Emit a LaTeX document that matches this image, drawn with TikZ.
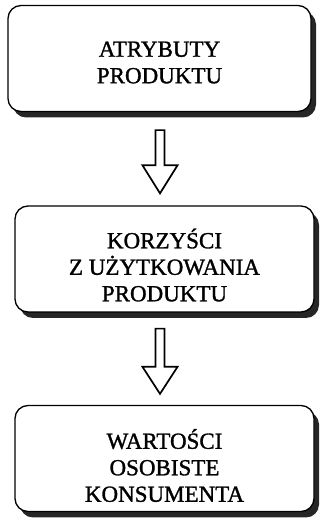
\documentclass[tikz,border=0pt]{standalone}
\usepackage{fontspec}
\setmainfont{Liberation Serif}
\newfontfamily\stagefont{Liberation Serif}[FakeBold=1.3]
\usetikzlibrary{shadows,calc}
\begin{document}
\begin{tikzpicture}[x=1pt,y=1pt,
  box/.style={draw=black, line width=1.3pt, rounded corners=13pt, fill=white,
    minimum width=299pt, minimum height=106pt,
    drop shadow={shadow xshift=5pt, shadow yshift=-6pt, fill=black!85, opacity=1}},
  lbl/.style={align=center, inner sep=0pt, font=\stagefont\fontsize{23}{26.5}\selectfont},
  blockarrow/.style={draw=black, line width=1.7pt, fill=white, line join=miter}]
\useasboundingbox (0,0) rectangle (320,519);

% the three stages
\node[box, minimum width=303pt] (b1) at (159.5,460.5) {};
\node[box] (b2) at (164.5,260) {};
\node[box] (b3) at (164.5,60.5) {};

\node[lbl] (t1) at ($(b1.center)+(0,-4)$) {ATRYBUTY\\PRODUKTU};
\node[lbl] (t2) at ($(b2.center)+(0,-6)$) {KORZYŚCI\\Z UŻYTKOWANIA\\PRODUKTU};
\node[lbl] (t3) at ($(b3.center)+(0,-7)$) {WARTOŚCI\\OSOBISTE\\KONSUMENTA};

% hollow block arrows between the stages
\coordinate (a1s) at ($(b1.south)+(0.5,-18)$);
\coordinate (a1e) at ($(b2.north)+(-4.5,12)$);
\coordinate (a2s) at ($(b2.south)+(-4.5,-16)$);
\coordinate (a2e) at ($(b3.north)+(-4.5,11)$);

\draw[blockarrow] let \p1=(a1s), \p2=(a1e) in
  (\x1-4.5,\y1) -- (\x1+4.5,\y1) -- (\x1+4.5,\y2+28) -- (\x1+17.5,\y2+28)
  -- (\x1,\y2) -- (\x1-17.5,\y2+28) -- (\x1-4.5,\y2+28) -- cycle;
\draw[blockarrow] let \p1=(a2s), \p2=(a2e) in
  (\x1-4.5,\y1) -- (\x1+4.5,\y1) -- (\x1+4.5,\y2+27) -- (\x1+17.5,\y2+27)
  -- (\x1,\y2) -- (\x1-17.5,\y2+27) -- (\x1-4.5,\y2+27) -- cycle;
\end{tikzpicture}
\end{document}
